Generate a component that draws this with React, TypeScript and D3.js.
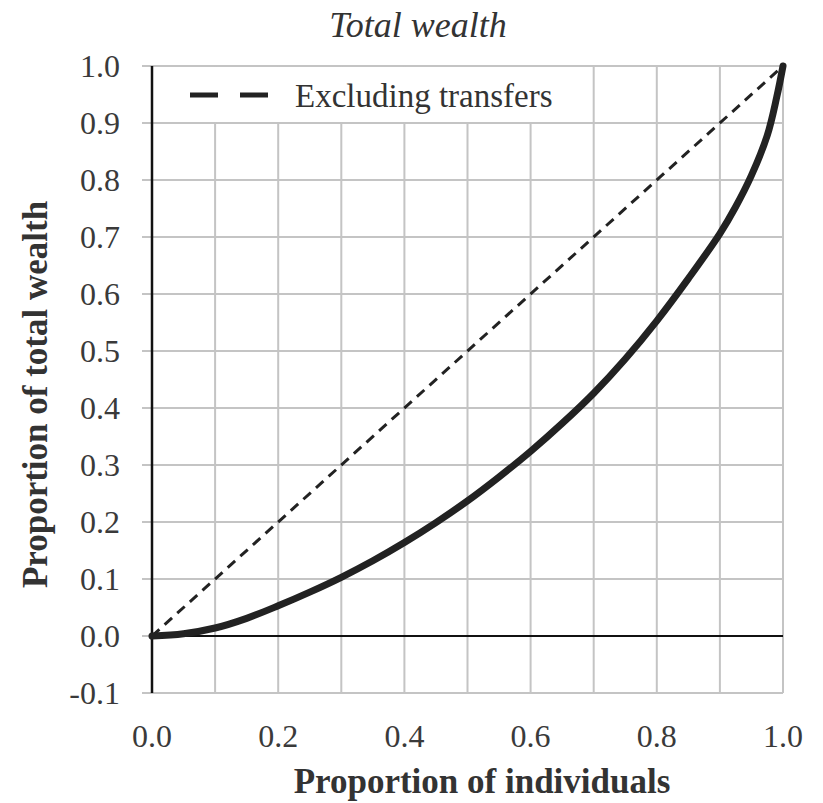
import * as d3 from "d3";

const xTicks = [0, 0.2, 0.4, 0.6, 0.8, 1.0];
const yTicks = [-0.1, 0, 0.1, 0.2, 0.3, 0.4, 0.5, 0.6, 0.7, 0.8, 0.9, 1.0];
const gridX = [0, 0.1, 0.2, 0.3, 0.4, 0.5, 0.6, 0.7, 0.8, 0.9, 1.0];

// Lorenz curve
const shareIndividuals = [
  0, 0.05, 0.1, 0.15, 0.2, 0.25, 0.3, 0.35, 0.4, 0.45, 0.5, 0.55, 0.6, 0.65,
  0.7, 0.75, 0.8, 0.85, 0.9, 0.925, 0.95, 0.975, 0.99, 1.0,
];
const shareWealth = [
  0, 0.004, 0.014, 0.031, 0.053, 0.077, 0.103, 0.132, 0.164, 0.199, 0.237, 0.279,
  0.324, 0.373, 0.426, 0.486, 0.553, 0.627, 0.706, 0.753, 0.808, 0.878, 0.945, 1.0,
];
// equality line ("Excluding transfers")
const equalityX = [0, 1];
const equalityY = [0, 1];

const W = 823;
const H = 803;
const margin = { left: 152, right: 40, top: 66, bottom: 110 };
const serif = "Liberation Serif, Times New Roman, Tinos, serif";

export default function App() {
  const x = d3
    .scaleLinear()
    .domain([0, 1])
    .range([margin.left, W - margin.right]);
  const y = d3
    .scaleLinear()
    .domain([-0.1, 1])
    .range([H - margin.bottom, margin.top]);

  const line = d3
    .line<[number, number]>()
    .x((d) => x(d[0]))
    .y((d) => y(d[1]))
    .curve(d3.curveCatmullRom.alpha(0.5));

  const lorenz = shareIndividuals.map((v, i) => [v, shareWealth[i]] as [number, number]);
  const equality = equalityX.map((v, i) => [v, equalityY[i]] as [number, number]);

  const [x0, x1] = x.range();
  const [yb, yt] = y.range();
  const txt = { fontFamily: serif };

  return (
    <svg
      width={W}
      height={H}
      style={{ position: "absolute", left: 0, top: 0, background: "#fff" }}
    >
      {/* title */}
      <text x={418} y={37} textAnchor="middle" fontSize={36} fontStyle="italic" fill="#333" style={txt}>
        Total wealth
      </text>

      {/* gridlines */}
      <g stroke="#c4c4c4" strokeWidth={2}>
        {yTicks.map((t) => (
          <line key={t} x1={x0 - 10} x2={x1} y1={y(t)} y2={y(t)} />
        ))}
        {gridX.map((t) => (
          <line key={t} x1={x(t)} x2={x(t)} y1={yt} y2={yb} />
        ))}
      </g>

      {/* legend box */}
      <rect x={x0 + 1} y={yt + 1} width={432} height={y(0.9) - yt - 2} fill="#fff" />
      <line x1={190} x2={270} y1={95} y2={95} stroke="#222" strokeWidth={5} strokeDasharray="28,22" />
      <text x={295} y={107} fontSize={33} fill="#333" style={txt}>
        Excluding transfers
      </text>

      {/* axes */}
      <line x1={x0} x2={x1} y1={y(0)} y2={y(0)} stroke="#111" strokeWidth={2} />
      <line x1={x0} x2={x0} y1={yt} y2={yb} stroke="#111" strokeWidth={2.5} />

      {/* series */}
      <path d={line(equality) ?? ""} fill="none" stroke="#222" strokeWidth={3} strokeDasharray="10,7" />
      <path d={line(lorenz) ?? ""} fill="none" stroke="#222" strokeWidth={7} strokeLinecap="round" />

      {/* y tick labels */}
      {yTicks.map((t) => (
        <text key={t} x={120} y={y(t) + 11} textAnchor="end" fontSize={32} fill="#3a3a3a" style={txt}>
          {d3.format(".1f")(t).replace("−", "-")}
        </text>
      ))}

      {/* x tick labels */}
      {xTicks.map((t) => (
        <text key={t} x={x(t)} y={747} textAnchor="middle" fontSize={32} fill="#3a3a3a" style={txt}>
          {d3.format(".1f")(t)}
        </text>
      ))}

      {/* axis titles */}
      <text x={482} y={793} textAnchor="middle" fontSize={35} fontWeight="bold" fill="#333" style={txt}>
        Proportion of individuals
      </text>
      <text
        transform={`translate(47,${(yt + yb) / 2 + 15}) rotate(-90)`}
        textAnchor="middle"
        fontSize={35}
        fontWeight="bold"
        fill="#333"
        style={txt}
      >
        Proportion of total wealth
      </text>
    </svg>
  );
}
